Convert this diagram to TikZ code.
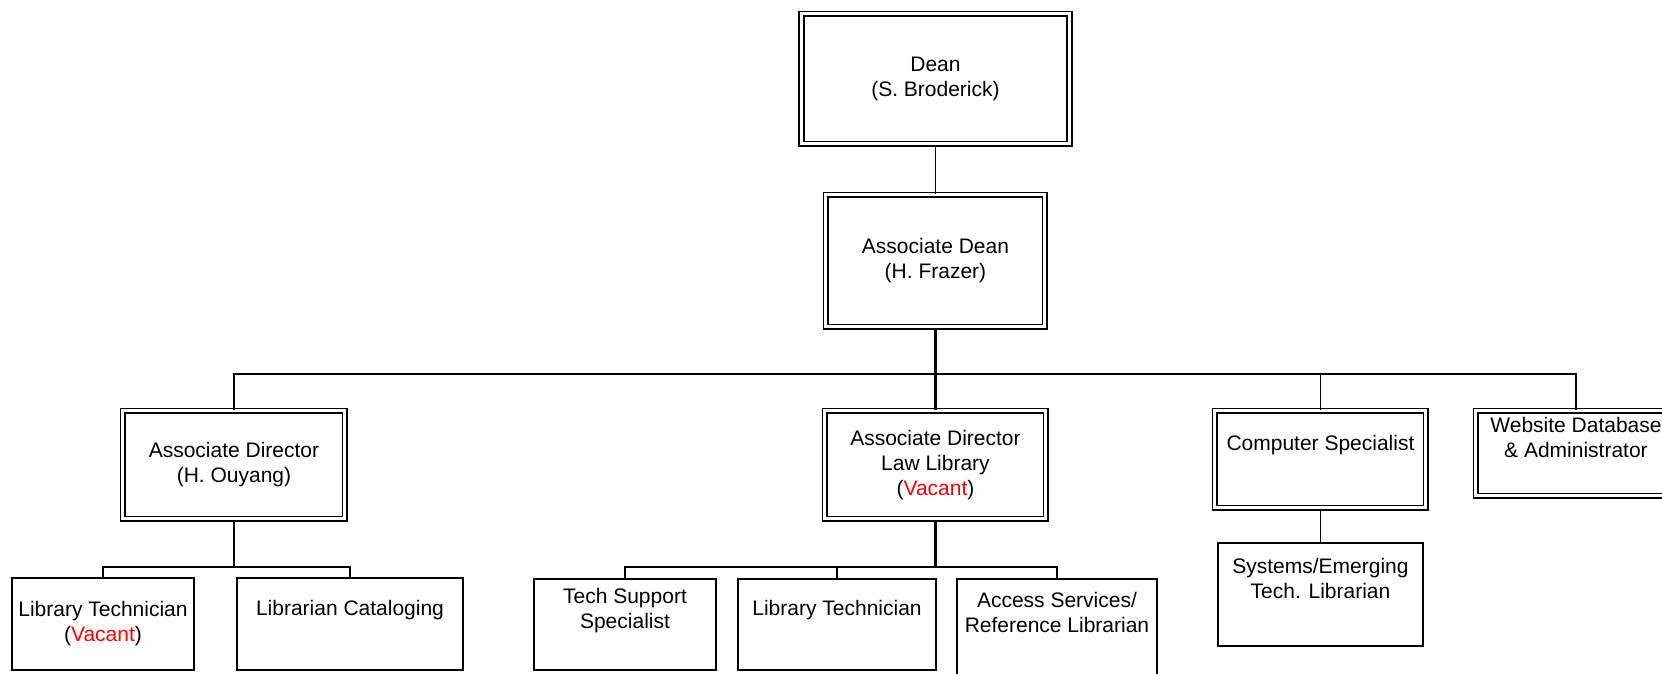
\documentclass[tikz,border=0pt]{standalone}
\usepackage{fontspec}
\setmainfont{Liberation Sans}
\usetikzlibrary{positioning}
\begin{document}
\begin{tikzpicture}[head/.style = {draw, double, line width=0.8pt, double distance=1.5pt, align=center, inner sep=0pt},
                    staff/.style = {draw, line width=0.9pt, align=center, inner sep=0pt},
                    trunk/.style = {line width=1.4pt},
                    every node/.style = {font=\fontsize{10.5pt}{12.5pt}\selectfont},
                    line width=0.9pt]
    \useasboundingbox (-467.75pt,-297.5pt) rectangle (363.25pt,39.5pt);

    \node[head, minimum width=134pt, minimum height=65pt] (dean) {Dean\\(S. Broderick)};
    \node[head, minimum width=109.5pt, minimum height=66pt] (assocdean) [below of=dean, node distance=91pt] {Associate Dean\\(H. Frazer)};

    \node[head, minimum width=110.5pt, minimum height=54pt] (adlaw) [below of=assocdean, node distance=102pt] {Associate Director\\Law Library\\(\textcolor{red}{Vacant})};
    \node[head, minimum width=111pt, minimum height=54pt] (adouyang) [left of=adlaw, node distance=350.75pt] {Associate Director\\(H. Ouyang)};
    \node[head, minimum width=105.5pt, minimum height=48.5pt] (compspec) [right of=adlaw, node distance=192.5pt, yshift=2.75pt] {Computer Specialist\\ \strut};
    \node[head, minimum width=100pt, minimum height=42.5pt] (website) [right of=adlaw, node distance=320.25pt, yshift=5.75pt] {Website Database\\\& Administrator\\ \strut};

    \node[staff, minimum width=91pt, minimum height=46pt] (libtech1) [below of=adouyang, node distance=79.5pt, xshift=-65.5pt] {Library Technician\\(\textcolor{red}{Vacant})};
    \node[staff, minimum width=113pt, minimum height=46pt] (libcat) [below of=adouyang, node distance=79.5pt, xshift=58pt] {Librarian Cataloging\\ \strut};

    \node[staff, minimum width=91pt, minimum height=45.5pt] (techsup) [below of=adlaw, node distance=79.75pt, xshift=-155.25pt] {Tech Support\\Specialist\\ \strut};
    \node[staff, minimum width=99pt, minimum height=45.5pt] (libtech2) [below of=adlaw, node distance=79.75pt, xshift=-49.25pt] {Library Technician\\ \strut};
    \node[staff, minimum width=100pt, minimum height=50pt] (access) [below of=adlaw, node distance=82pt, xshift=60.75pt] {Access Services/\\Reference Librarian\\ \strut};

    \node[staff, minimum width=102.5pt, minimum height=51.5pt] (systems) [below of=compspec, node distance=67.5pt] {Systems/Emerging\\Tech. Librarian\\ \strut};

    \coordinate (mainbus) at (0,-147.5pt);
    \coordinate (leftbus) at (adouyang |- 0,-244pt);
    \coordinate (midbus) at (adlaw |- 0,-244pt);

    \draw (dean) -- (assocdean);
    \draw[trunk] (assocdean) -- (adlaw);
    \draw (adouyang.north) |- (mainbus) -| (website.north);
    \draw (compspec.north) -- (compspec.north |- mainbus);
    \draw (compspec) -- (systems);

    \draw (adouyang) -- (leftbus);
    \draw (libtech1.north) |- (leftbus) -| (libcat.north);

    \draw[trunk] (adlaw) -- (midbus);
    \draw (techsup.north) |- (midbus) -| (access.north);
    \draw (libtech2.north) -- (libtech2.north |- midbus);
\end{tikzpicture}
\end{document}
